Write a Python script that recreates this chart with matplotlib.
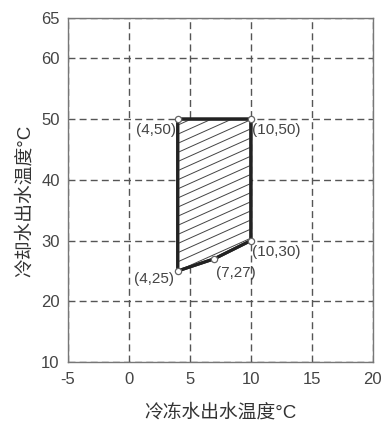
import numpy as np
import matplotlib.pyplot as plt
from matplotlib.patches import Polygon

plt.rcParams['font.family'] = ['Liberation Sans', 'Noto Sans CJK SC', 'DejaVu Sans']
plt.rcParams['axes.unicode_minus'] = False

# operating envelope: chilled water outlet (x) vs cooling water outlet (y)
chilled_out = [4, 10, 10, 7, 4]
cooling_out = [50, 50, 30, 27, 25]

x_ticks = [-5, 0, 5, 10, 15, 20]
y_ticks = [10, 20, 30, 40, 50, 60]
y_top = 66.6
y_top_label = '65'

x_label = '冷冻水出水温度°C'
y_label = '冷却水出水温度°C'

# label placement for each vertex: (dx, dy) in points, ha, va
label_pos = [
    ((-1, -3), 'right', 'top'),
    ((1, -3), 'left', 'top'),
    ((1, -3), 'left', 'top'),
    ((1, -5), 'left', 'top'),
    ((-3, -1), 'right', 'top'),
]

fig = plt.figure(figsize=(3.84, 4.23), dpi=100)
ax = fig.add_axes([0.177, 0.144, 0.794, 0.813])

ax.set_xlim(x_ticks[0], x_ticks[-1])
ax.set_ylim(y_ticks[0], y_top)
ax.set_xticks(x_ticks)
ax.set_yticks(y_ticks + [y_top])
ax.set_yticklabels([str(v) for v in y_ticks] + [y_top_label])

ax.grid(True, color='#555555', linestyle=(0, (5, 3)), linewidth=1.0)
ax.tick_params(length=0, labelsize=12, labelcolor='#444444')
ax.tick_params(axis='x', pad=7)
ax.tick_params(axis='y', pad=6)
for s in ax.spines.values():
    s.set_color('#777777')
    s.set_linewidth(1.0)

pts = list(zip(chilled_out, cooling_out))
poly = Polygon(pts, closed=True, facecolor='white', edgecolor='#222222',
               linewidth=2.2, zorder=3)
ax.add_patch(poly)

# diagonal hatching clipped to the envelope
clip = Polygon(pts, closed=True, transform=ax.transData, visible=False)
ax.add_patch(clip)
xs = np.array([0, 14])
for c in np.arange(10, 60, 1.5):
    ln, = ax.plot(xs, 0.9 * (xs - 4) + c, color='#444444', lw=0.7, zorder=4)
    ln.set_clip_path(clip)
ax.add_patch(Polygon(pts, closed=True, fill=False, edgecolor='#222222',
                     linewidth=2.2, zorder=5))

ax.plot(chilled_out, cooling_out, linestyle='none', marker='o', ms=4.5,
        mfc='white', mec='#666666', mew=0.9, zorder=6, clip_on=False)

for (x, y), (off, ha, va) in zip(pts, label_pos):
    ax.annotate(f'({x},{y})', (x, y), xytext=off, textcoords='offset points',
                ha=ha, va=va, fontsize=11, color='#444444', zorder=7)

ax.set_xlabel(x_label, fontsize=13.5, color='#333333', labelpad=12)
ax.set_ylabel(y_label, fontsize=13.5, color='#333333', labelpad=6)
ax.yaxis.set_label_coords(-0.113, 0.468)

fig.savefig('out.png', dpi=100)
